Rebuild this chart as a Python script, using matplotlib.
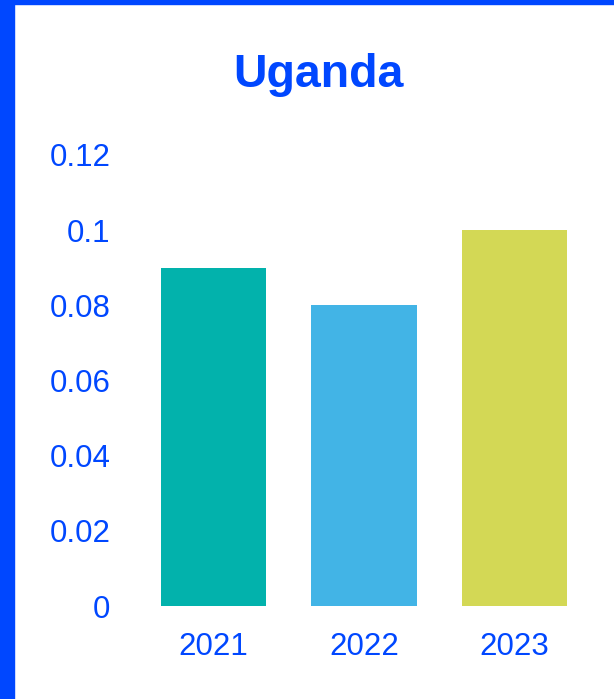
import matplotlib.pyplot as plt
from matplotlib.patches import Rectangle

years = ["2021", "2022", "2023"]
values = [0.09, 0.08, 0.10]
bar_colors = ["#02B2AC", "#42B4E6", "#D3D855"]
y_ticks = [0, 0.02, 0.04, 0.06, 0.08, 0.1, 0.12]
y_tick_labels = ["0", "0.02", "0.04", "0.06", "0.08", "0.1", "0.12"]

BLUE = "#0047FF"


def main() -> None:
    plt.rcParams["font.family"] = ["Liberation Sans", "DejaVu Sans"]
    W, H = 614, 699
    fig = plt.figure(figsize=(W / 100, H / 100), dpi=100)

    # blue frame on left and top edges only
    fig.patches.append(Rectangle((0, 0), 14 / W, 1, transform=fig.transFigure, color=BLUE, zorder=0))
    fig.patches.append(Rectangle((0, 1 - 4 / H), 1, 4 / H, transform=fig.transFigure, color=BLUE, zorder=0))

    ax = fig.add_axes([138.25 / W, (H - 606) / H, 451.5 / W, 451 / H])
    x = range(len(years))
    ax.bar(x, values, width=0.7, color=bar_colors)
    ax.set_xlim(-0.5, 2.5)
    ax.set_ylim(0, 0.12)
    ax.set_xticks(list(x), years)
    ax.set_yticks(y_ticks, y_tick_labels)
    ax.tick_params(axis="both", length=0, labelsize=22.5, labelcolor=BLUE)
    ax.tick_params(axis="y", pad=20)
    ax.tick_params(axis="x", pad=19)
    for s in ax.spines.values():
        s.set_visible(False)

    fig.text(318 / W, 1 - 75 / H, "Uganda", ha="center", va="center",
             fontsize=33.5, fontweight="bold", color=BLUE)

    fig.savefig("out.png", dpi=100)


if __name__ == "__main__":
    main()
